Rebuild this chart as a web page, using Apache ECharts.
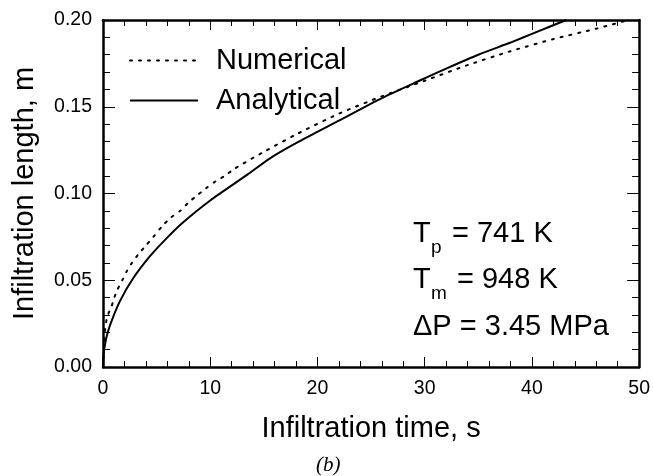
<!DOCTYPE html>
<html>
<head>
<meta charset="utf-8">
<script src="https://cdn.jsdelivr.net/npm/echarts@6/dist/echarts.min.js"></script>
<style>
html,body{margin:0;padding:0;background:#fff;}
#c{width:653px;height:476px;}
</style>
</head>
<body>
<div id="c"></div>
<script>
// ---- data ----
var numericalT = [0, 0.1, 0.2, 0.4, 0.8, 1.0, 1.3, 1.8, 2.2, 2.7, 3.3, 4.0, 4.7, 5.5, 6.3, 7.2, 8.0, 8.8, 9.6, 10.5, 11.3, 12.2, 13.0, 15, 18, 22, 26, 30, 34, 38, 42, 46, 49];
var numericalL = [0, 0.012, 0.022, 0.029, 0.035, 0.039, 0.044, 0.050, 0.055, 0.060, 0.065, 0.070, 0.075, 0.081, 0.086, 0.090, 0.095, 0.099, 0.103, 0.107, 0.110, 0.114, 0.117, 0.124, 0.134, 0.146, 0.156, 0.165, 0.174, 0.182, 0.189, 0.195, 0.200];
var analyticalT = [0, 0.05, 0.28, 0.65, 1.58, 2.8, 4.4, 5.9, 7.4, 10, 13.5, 15.5, 18, 22, 26, 29.5, 32, 35, 38, 40, 43.2];
var analyticalL = [0, 0.007, 0.016, 0.024, 0.038, 0.051, 0.064, 0.074, 0.083, 0.096, 0.111, 0.120, 0.129, 0.142, 0.155, 0.165, 0.172, 0.180, 0.187, 0.192, 0.200];
var seriesNames = ['Numerical', 'Analytical'];
var xTitle = 'Infiltration time, s';
var yTitle = 'Infiltration length, m';
var panelLabel = '(b)';

function pairs(a, b) { return a.map(function (v, i) { return [v, b[i]]; }); }

var FONT = '"Liberation Sans", Arial, Helvetica, sans-serif';
var chart = echarts.init(document.getElementById('c'), null, {renderer: 'canvas'});

function xAx(pos, show) {
  return {
    type: 'value', position: pos, min: 0, max: 50, interval: 10,
    axisLine: {show: true, onZero: false, lineStyle: {color: '#000', width: 2.5}},
    axisTick: {show: true, inside: true, length: 10, lineStyle: {color: '#000', width: 1}},
    minorTick: {show: true, splitNumber: 5, length: 6, lineStyle: {color: '#000', width: 1}},
    splitLine: {show: false},
    axisLabel: {show: show, color: '#000', fontSize: 19.5, fontFamily: FONT, margin: 12},
    name: show ? xTitle : '', nameLocation: 'middle', nameGap: 47,
    nameTextStyle: {color: '#000', fontSize: 29, fontFamily: FONT}
  };
}
function yAx(pos, show) {
  return {
    type: 'value', position: pos, min: 0, max: 0.2, interval: 0.05,
    axisLine: {show: true, onZero: false, lineStyle: {color: '#000', width: 2.5}},
    axisTick: {show: true, inside: true, length: 12, lineStyle: {color: '#000', width: 1}},
    minorTick: {show: true, splitNumber: 5, length: 7, lineStyle: {color: '#000', width: 1}},
    splitLine: {show: false},
    axisLabel: {show: show, color: '#000', fontSize: 19.5, fontFamily: FONT, margin: 11,
      formatter: function (v) { return v.toFixed(2); }},
    name: show ? yTitle : '', nameLocation: 'middle', nameGap: 64,
    nameTextStyle: {color: '#000', fontSize: 29, fontFamily: FONT}
  };
}

var textStyleBig = {fill: '#000', fontSize: 29, fontFamily: FONT};
var textStyleSub = {fill: '#000', fontSize: 19, fontFamily: FONT};

chart.setOption({
  animation: false,
  backgroundColor: '#fff',
  grid: {left: 103, right: 12, top: 20, bottom: 109, containLabel: false},
  xAxis: [xAx('bottom', true), xAx('top', false)],
  yAxis: [yAx('left', true), yAx('right', false)],
  legend: {
    orient: 'vertical', left: 129, top: 46, padding: 0, itemWidth: 68, itemHeight: 30, itemGap: 11,
    itemStyle: {opacity: 0},
    textStyle: {color: '#000', fontSize: 29, fontFamily: FONT, padding: [0, 0, 0, 13]},
    data: seriesNames
  },
  series: [
    {name: seriesNames[0], type: 'line', xAxisIndex: 0, yAxisIndex: 0, showSymbol: false, symbol: 'none',
      smooth: 0.25, data: pairs(numericalT, numericalL), itemStyle: {color: '#000'},
      lineStyle: {color: '#000', width: 2, type: [2, 7], cap: 'round'}},
    {name: seriesNames[1], type: 'line', xAxisIndex: 0, yAxisIndex: 0, showSymbol: false, symbol: 'none',
      smooth: 0.2, data: pairs(analyticalT, analyticalL), itemStyle: {color: '#000'},
      lineStyle: {color: '#000', width: 2, type: 'solid'}}
  ],
  graphic: [
    {type: 'text', left: 413, top: 219, style: Object.assign({text: 'T'}, textStyleBig)},
    {type: 'text', left: 431, top: 238, style: Object.assign({text: 'p'}, textStyleSub)},
    {type: 'text', left: 452, top: 219, style: Object.assign({text: '= 741 K'}, textStyleBig)},
    {type: 'text', left: 413, top: 265, style: Object.assign({text: 'T'}, textStyleBig)},
    {type: 'text', left: 431, top: 284, style: Object.assign({text: 'm'}, textStyleSub)},
    {type: 'text', left: 457, top: 265, style: Object.assign({text: '= 948 K'}, textStyleBig)},
    {type: 'text', left: 413, top: 312, style: Object.assign({text: '\u0394P = 3.45 MPa'}, textStyleBig)},
    {type: 'text', left: 316, top: 455, style: {text: panelLabel, fill: '#000', fontSize: 21, fontStyle: 'italic', fontFamily: '"Liberation Serif", "Times New Roman", serif'}}
  ]
});
</script>
</body>
</html>
